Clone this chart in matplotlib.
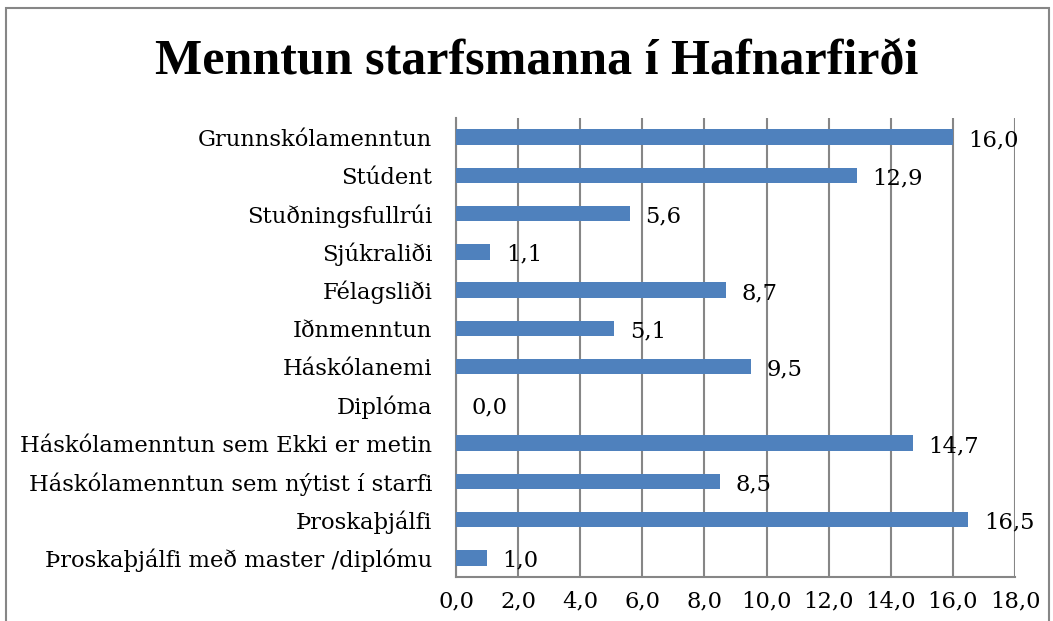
import numpy as np
import matplotlib.pyplot as plt
from matplotlib.ticker import FuncFormatter
from matplotlib.patches import Rectangle

categories = ["Grunnskólamenntun", "Stúdent", "Stuðningsfullrúi", "Sjúkraliði",
              "Félagsliði", "Iðnmenntun", "Háskólanemi", "Diplóma",
              "Háskólamenntun sem Ekki er metin", "Háskólamenntun sem nýtist í starfi",
              "Þroskaþjálfi", "Þroskaþjálfi með master /diplómu"]
values = [16.0, 12.9, 5.6, 1.1, 8.7, 5.1, 9.5, 0.0, 14.7, 8.5, 16.5, 1.0]
xticks = [0, 2, 4, 6, 8, 10, 12, 14, 16, 18]

plt.rcParams['font.family'] = ['DejaVu Serif']

fig = plt.figure(figsize=(10.53, 6.21), dpi=100)
ax = fig.add_axes([456 / 1053, 1 - 577 / 621, (1015 - 456) / 1053, (577 - 118) / 621])

# outer chart frame
fig.patches.append(Rectangle((6 / 1053, -0.05), (1049 - 6) / 1053, 1.05 - 8 / 621,
                             transform=fig.transFigure, fill=False,
                             edgecolor='#868686', linewidth=1.5))

y = np.arange(len(categories))
ax.barh(y, values, height=0.4, color='#4F81BD', zorder=3)
for yi, v in zip(y, values):
    ax.text(v + 0.5, yi + 0.08, f"{v:.1f}".replace('.', ','), va='center', ha='left',
            fontsize=16.3, zorder=4)

ax.set_ylim(len(categories) - 0.5, -0.5)
ax.set_xlim(0, 18)
ax.set_yticks(y)
ax.set_yticklabels(categories)
ax.set_xticks(xticks)
ax.xaxis.set_major_formatter(FuncFormatter(lambda x, p: f"{x:.1f}".replace('.', ',')))
ax.tick_params(axis='both', length=0, labelsize=16.3)
ax.tick_params(axis='y', pad=17)
ax.tick_params(axis='x', pad=10)
ax.grid(axis='x', color='#868686', linewidth=1.5, zorder=0)
for s in ['top', 'right']:
    ax.spines[s].set_visible(False)
for s in ['left', 'bottom']:
    ax.spines[s].set_color('#868686')
    ax.spines[s].set_linewidth(1.5)

fig.text(537 / 1053, 1 - 62 / 621, "Menntun starfsmanna í Hafnarfirði", ha='center', va='center',
         fontsize=36, fontweight='bold', family=['Liberation Serif', 'DejaVu Serif'])

fig.savefig('out.png', dpi=100)
